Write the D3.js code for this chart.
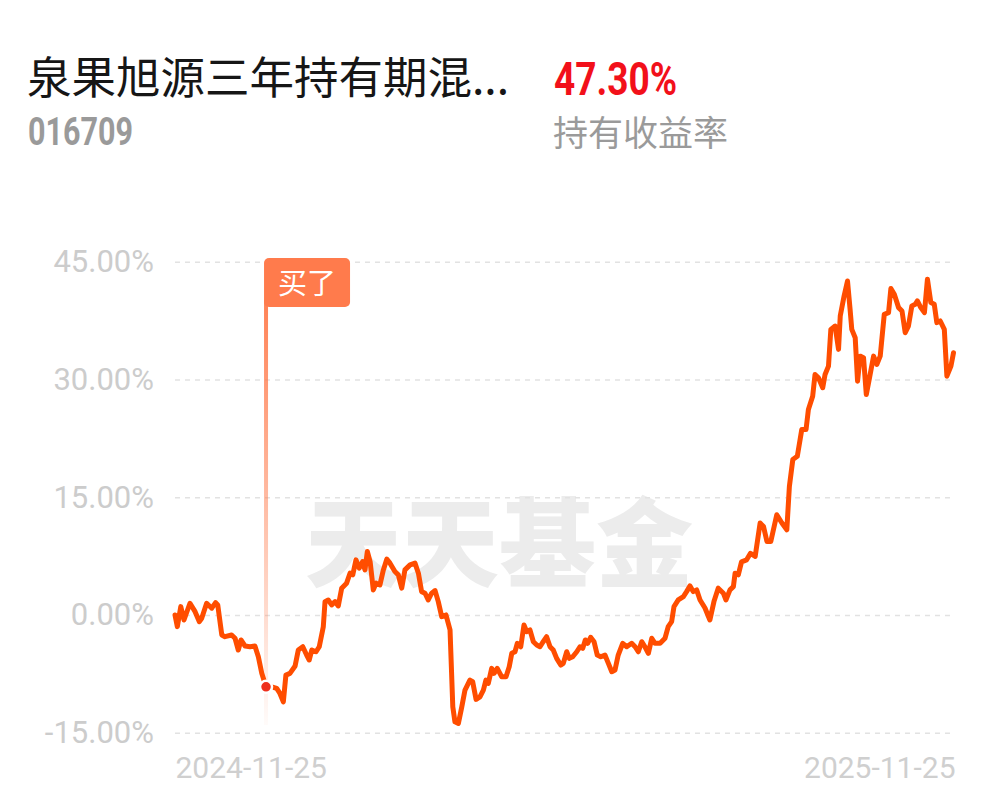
<!DOCTYPE html>
<head>
  <meta charset="UTF-8">
  <script src="https://d3js.org/d3.v7.min.js"></script>
  <title>泉果旭源三年持有期混合</title>
  <style>
    body { margin: 0; background: #fff; }
    text { font-family: Roboto, "Noto Sans CJK SC", sans-serif; }
    .cjk { font-family: "Noto Sans CJK SC", sans-serif; }
  </style>
</head>
<body>
  <svg id="chart"></svg>
    <script>

        var width = 997;
        var height = 802;

        var fundName = "泉果旭源三年持有期混...";
        var fundCode = "016709";
        var holdReturn = "47.30%";
        var holdReturnLabel = "持有收益率";
        var buyLabel = "买了";
        var watermark = "天天基金";

        // days since 2024-11-25, cumulative return (%)
        var days = [0, 1.1, 2.7, 4.2, 7.0, 9.4, 11.4, 12.5, 14.8, 17.2, 19.0, 20.0, 21.9, 23.4, 26.5, 28.1, 29.6, 30.9, 32.8, 35.1,
            37.4, 39.0, 40.6, 42.6, 45.2, 47.6, 49.1, 50.7, 51.9, 53.8, 56.2, 57.7, 59.8, 61.6, 62.8, 64.0, 66.0, 67.5, 69.4, 70.2,
            71.7, 73.3, 74.9, 76.4, 78.0, 80.3, 81.9, 83.2, 84.7, 86.2, 87.8, 88.9, 90.0, 91.3, 92.8, 94.1, 95.9, 97.5, 99.1, 100.6,
            102.9, 104.5, 106.1, 107.6, 110.0, 112.3, 113.9, 115.4, 117.0, 118.5, 120.1, 121.7, 123.2, 124.8, 126.8, 128.7, 130.0, 131.0, 132.6, 134.2,
            135.7, 138.0, 139.3, 140.9, 142.7, 144.3, 145.5, 146.6, 148.2, 149.3, 150.8, 152.9, 154.9, 156.4, 157.6, 159.1, 160.2, 161.8, 163.3, 164.6,
            166.1, 167.7, 169.3, 170.8, 172.3, 173.9, 175.5, 177.0, 178.6, 180.5, 181.7, 183.3, 184.5, 186.1, 188.0, 189.5, 190.8, 192.0, 193.1, 194.5,
            196.1, 197.6, 199.2, 201.2, 202.8, 204.4, 205.9, 207.4, 209.5, 211.4, 213.7, 215.3, 216.8, 218.4, 219.9, 221.5, 223.1, 224.6, 227.0, 229.3,
            230.8, 232.4, 233.5, 235.5, 237.9, 239.4, 241.0, 242.5, 244.1, 245.7, 248.0, 250.3, 252.2, 254.2, 256.6, 257.8, 259.7, 261.3, 262.1, 263.6,
            265.1, 267.5, 269.3, 271.5, 273.8, 275.4, 277.0, 278.8, 281.6, 284.0, 286.3, 287.5, 289.1, 291.2, 293.3, 295.3, 296.4, 298.4, 299.5, 301.1,
            303.1, 304.2, 305.8, 306.9, 308.9, 310.5, 311.3, 313.1, 314.7, 315.9, 316.7, 318.3, 319.4, 320.6, 322.2, 323.5, 325.0, 326.9, 328.4, 330.0,
            331.9, 333.9, 335.0, 336.6, 338.6, 340.2, 341.7, 343.2, 344.8, 346.4, 347.4, 349.0, 350.7, 352.1, 353.7, 355.3, 356.5, 358.1, 360.0, 361.2,
            363.1, 364.3];
        var returns = [0.00, -1.49, 1.06, -0.64, 1.49, 0.42, -0.86, -0.42, 1.49, 0.86, 1.57, 1.28, -2.55, -2.77, -2.55, -2.97, -4.47, -3.19, -3.96, -4.05,
            -3.96, -5.32, -7.44, -9.15, -9.15, -9.36, -10.00, -11.07, -7.66, -7.44, -6.51, -4.47, -4.05, -5.11, -5.74, -4.47, -4.69, -4.05, -1.49, 1.70,
            1.91, 1.28, 1.70, 1.15, 3.41, 4.05, 5.32, 5.11, 7.02, 5.96, 6.80, 5.74, 8.08, 6.80, 3.19, 4.05, 3.83, 5.74, 7.11, 6.60,
            5.53, 5.11, 3.41, 5.74, 6.38, 6.60, 5.32, 2.97, 2.77, 1.91, 2.77, 3.10, 1.70, -0.22, 0.00, -1.91, -11.71, -13.62, -13.83, -11.71,
            -9.57, -8.30, -8.51, -10.76, -10.43, -9.57, -8.30, -8.72, -6.80, -7.44, -6.80, -7.88, -7.88, -6.60, -4.89, -4.69, -3.61, -4.05, -1.28, -2.13,
            -1.91, -3.41, -3.83, -4.05, -3.41, -2.77, -4.05, -4.47, -5.53, -6.38, -6.17, -4.69, -5.53, -5.32, -4.69, -4.05, -4.25, -3.19, -3.61, -2.85,
            -3.41, -5.11, -5.32, -5.11, -6.17, -7.24, -7.02, -5.11, -3.61, -4.05, -3.61, -4.05, -4.69, -3.41, -4.05, -4.89, -2.97, -3.61, -3.61, -2.97,
            -1.49, -0.86, 1.06, 1.91, 2.34, 2.97, 3.70, 2.97, 3.19, 1.91, 0.89, -0.64, 1.70, 3.41, 2.77, 1.91, 3.19, 3.61, 5.32, 5.11,
            6.77, 7.02, 7.85, 7.47, 11.71, 11.27, 9.36, 9.36, 12.77, 11.71, 10.85, 16.38, 19.79, 20.21, 23.62, 23.62, 26.17, 27.87, 30.64, 30.22,
            28.94, 30.64, 31.70, 36.38, 36.80, 33.83, 38.08, 40.63, 42.55, 38.94, 36.38, 35.32, 29.78, 32.97, 32.77, 28.09, 30.22, 32.97, 31.91, 32.97,
            38.30, 38.51, 41.58, 40.85, 39.15, 38.72, 35.96, 36.80, 39.36, 39.57, 40.00, 39.15, 38.51, 42.77, 39.79, 39.57, 37.24, 37.45, 36.38, 30.42,
            31.70, 33.41];

        var buyDay = 42.6;
        var yTicks = [-15, 0, 15, 30, 45];
        var xTickDays = [0, 365];
        var xTickLabels = ["2024-11-25", "2025-11-25"];

        var data = days.map(function(d, i) {
            return { day: d, value: returns[i] };
        });

        var svg = d3.select("#chart")
            .attr("width", width)
            .attr("height", height);

        // header
        svg.append("text")
            .attr("class", "cjk")
            .attr("x", 27)
            .attr("y", 94)
            .attr("font-size", 44.5)
            .attr("fill", "#161616")
            .text(fundName);

        svg.append("text")
            .attr("x", 28)
            .attr("y", 145)
            .attr("font-size", 38)
            .attr("font-weight", "bold")
            .attr("fill", "#9a9a9a")
            .attr("textLength", 105)
            .attr("lengthAdjust", "spacingAndGlyphs")
            .text(fundCode);

        svg.append("text")
            .attr("x", 554)
            .attr("y", 95)
            .attr("font-size", 46)
            .attr("font-weight", "bold")
            .attr("fill", "#f2101a")
            .attr("textLength", 123)
            .attr("lengthAdjust", "spacingAndGlyphs")
            .text(holdReturn);

        svg.append("text")
            .attr("class", "cjk")
            .attr("x", 553)
            .attr("y", 146)
            .attr("font-size", 35)
            .attr("fill", "#9a9a9a")
            .text(holdReturnLabel);

        // chart
        var x = d3.scaleLinear()
            .domain([0, 365])
            .range([175, 955]);

        var y = d3.scaleLinear()
            .domain([-15, 45])
            .range([732.7, 261.7]);

        svg.append("text")
            .attr("class", "cjk")
            .attr("x", 305)
            .attr("y", 579)
            .attr("font-size", 97)
            .attr("font-weight", 900)
            .attr("fill", "#ececec")
            .text(watermark);

        var yAxis = svg.append("g")
            .attr("transform", "translate(175,0)")
            .call(d3.axisLeft(y)
                .tickValues(yTicks)
                .tickSize(-(955 - 175))
                .tickPadding(21)
                .tickFormat(function(d) { return d.toFixed(2) + "%"; }));
        yAxis.select(".domain").remove();
        yAxis.selectAll(".tick line")
            .attr("stroke", "#e2e2e2")
            .attr("stroke-width", 1.6)
            .attr("stroke-dasharray", "5,5");
        yAxis.selectAll(".tick text")
            .attr("font-size", 31)
            .attr("fill", "#cccccc")
            .attr("font-family", "Roboto, sans-serif");

        var xAxis = svg.append("g")
            .attr("transform", "translate(0,757)")
            .call(d3.axisBottom(x)
                .tickValues(xTickDays)
                .tickSize(0)
                .tickPadding(0)
                .tickFormat(function(d, i) { return xTickLabels[i]; }));
        xAxis.select(".domain").remove();
        xAxis.selectAll(".tick text")
            .attr("font-size", 30)
            .attr("fill", "#cfcfcf")
            .attr("font-family", "Roboto, sans-serif")
            .attr("dy", "0.71em")
            .attr("text-anchor", function(d, i) { return i == 0 ? "start" : "end"; });

        // buy marker
        var defs = svg.append("defs");
        var grad = defs.append("linearGradient")
            .attr("id", "buyGrad")
            .attr("x1", 0).attr("y1", 0).attr("x2", 0).attr("y2", 1);
        grad.append("stop").attr("offset", "0%").attr("stop-color", "#ff7b4c").attr("stop-opacity", 0.95);
        grad.append("stop").attr("offset", "100%").attr("stop-color", "#ff7b4c").attr("stop-opacity", 0.03);

        var buyPoint = data.filter(function(d) { return d.day == buyDay; })[0];
        var bx = x(buyPoint.day);

        svg.append("rect")
            .attr("x", bx - 2)
            .attr("y", 300)
            .attr("width", 4)
            .attr("height", 725 - 300)
            .attr("fill", "url(#buyGrad)");

        svg.append("rect")
            .attr("x", bx - 2)
            .attr("y", 258)
            .attr("width", 86)
            .attr("height", 49)
            .attr("rx", 5)
            .attr("fill", "#ff7b4c");

        svg.append("text")
            .attr("class", "cjk")
            .attr("x", bx - 2 + 43)
            .attr("y", 284)
            .attr("dy", "0.35em")
            .attr("text-anchor", "middle")
            .attr("font-size", 29)
            .attr("fill", "#fff")
            .text(buyLabel);

        var line = d3.line()
            .x(function(d) { return x(d.day); })
            .y(function(d) { return y(d.value); });

        svg.append("path")
            .datum(data)
            .attr("d", line)
            .attr("fill", "none")
            .attr("stroke", "#ff4d00")
            .attr("stroke-width", 5)
            .attr("stroke-linejoin", "round")
            .attr("stroke-linecap", "round");

        svg.append("circle")
            .attr("cx", bx)
            .attr("cy", y(buyPoint.value))
            .attr("r", 6)
            .attr("fill", "#ee2f1c")
            .attr("stroke", "#fff")
            .attr("stroke-width", 2.5);

    </script>
    </body>
</html>
